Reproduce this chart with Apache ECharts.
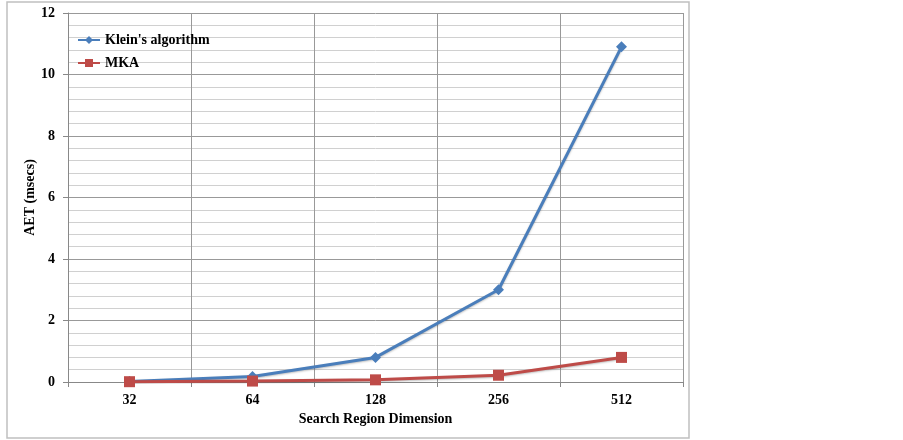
<!DOCTYPE html>
<html lang="en">
  <head>
    <meta charset="UTF-8" />
    <title>AET vs Search Region Dimension</title>
    <script src="https://cdn.jsdelivr.net/npm/echarts@6/dist/echarts.min.js"></script>
  </head>
  <body style="margin: 0; background: #fff">
    <div id="container" style="width: 903px; height: 440px"></div>
    <script>
      // data
      const dims = ["32", "64", "128", "256", "512"];
      const klein = [0.02, 0.18, 0.8, 3.0, 10.9];
      const mka = [0.01, 0.03, 0.07, 0.22, 0.8];

      const font = "'Liberation Serif', 'Times New Roman', serif";
      const chart = echarts.init(document.getElementById("container"));

      const option = {
        animation: false,
        textStyle: { fontFamily: font },
        graphic: [
          {
            type: "rect",
            shape: { x: 7, y: 2, width: 682, height: 436 },
            style: { fill: "none", stroke: "#c0c0c0", lineWidth: 1.5 }
          }
        ],
        grid: { left: 68, top: 13, width: 615, height: 369 },
        legend: {
          orient: "vertical",
          left: 72,
          top: 28,
          itemWidth: 22,
          itemHeight: 10,
          itemGap: 9,
          textStyle: { fontFamily: font, fontWeight: "bold", fontSize: 14, color: "#000" },
          data: ["Klein's algorithm", "MKA"]
        },
        xAxis: {
          type: "category",
          data: dims,
          boundaryGap: true,
          name: "Search Region Dimension",
          nameLocation: "middle",
          nameGap: 30,
          nameTextStyle: { fontFamily: font, fontWeight: "bold", fontSize: 14, color: "#000" },
          axisLine: { lineStyle: { color: "#888", width: 1 } },
          axisTick: { show: true, length: 5, lineStyle: { color: "#888" } },
          axisLabel: { fontFamily: font, fontWeight: "bold", fontSize: 14, color: "#000", margin: 11 },
          splitLine: { show: true, lineStyle: { color: "#999", width: 1 } }
        },
        yAxis: {
          type: "value",
          min: 0,
          max: 12,
          interval: 2,
          name: "AET (msecs)",
          nameLocation: "middle",
          nameGap: 31,
          nameMoveOverlap: false,
          nameTextStyle: { fontFamily: font, fontWeight: "bold", fontSize: 14, color: "#000" },
          axisLine: { show: true, lineStyle: { color: "#888", width: 1 } },
          axisTick: { show: true, length: 5, lineStyle: { color: "#888" } },
          axisLabel: { fontFamily: font, fontWeight: "bold", fontSize: 14, color: "#000", margin: 13 },
          splitLine: { show: true, lineStyle: { color: "#999", width: 1 } },
          minorTick: { show: false, splitNumber: 5 },
          minorSplitLine: { show: true, lineStyle: { color: "#d0d0d0", width: 1 } }
        },
        series: [
          {
            name: "Klein's algorithm",
            type: "line",
            data: klein,
            symbol: "diamond",
            symbolSize: 11,
            color: "#4a7ebb",
            lineStyle: { width: 3, color: "#4a7ebb", shadowColor: "rgba(0,0,0,0.25)", shadowBlur: 2, shadowOffsetY: 1 },
            itemStyle: { color: "#4a7ebb", borderWidth: 0 }
          },
          {
            name: "MKA",
            type: "line",
            data: mka,
            symbol: "rect",
            symbolSize: 11,
            color: "#be4b48",
            lineStyle: { width: 3, color: "#be4b48", shadowColor: "rgba(0,0,0,0.25)", shadowBlur: 2, shadowOffsetY: 1 },
            itemStyle: { color: "#be4b48", borderWidth: 0 }
          }
        ]
      };
      chart.setOption(option);
    </script>
  </body>
</html>
